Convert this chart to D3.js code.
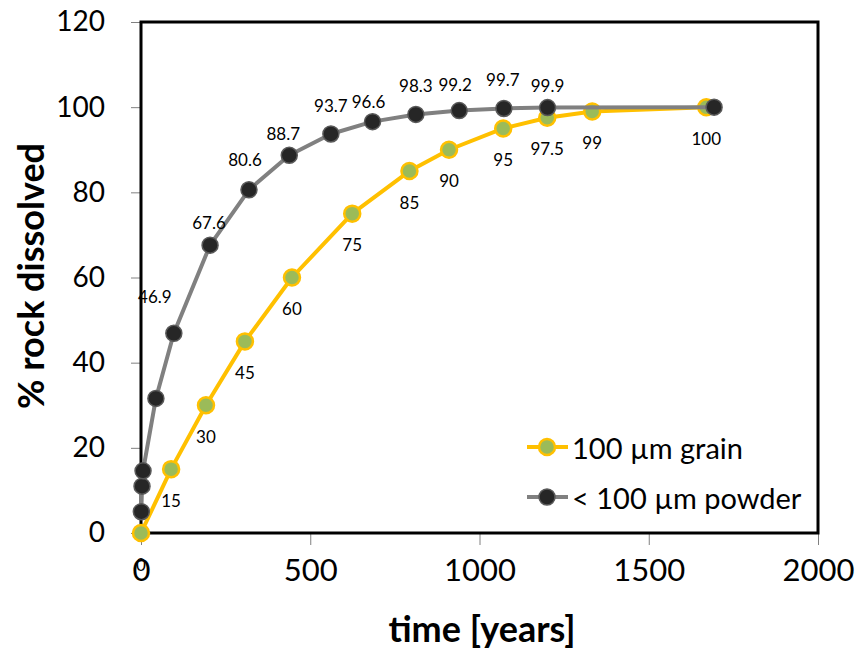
<!DOCTYPE html>
<html>
<head>
<meta charset="utf-8">
<script src="https://cdn.jsdelivr.net/npm/d3@7"></script>
<style>
  html, body { margin: 0; padding: 0; background: #fff; }
  svg { display: block; font-family: Lato, "Open Sans", sans-serif; }
</style>
</head>
<body>
<svg id="chart" width="857" height="650"></svg>
<script>
// ---- data ----
const grainTime   = [0, 89, 192, 307, 446, 624, 793, 910, 1070, 1200, 1333, 1670];
const grainValue  = [0, 15, 30, 45, 60, 75, 85, 90, 95, 97.5, 99, 100];
const powderTime  = [1, 3, 6, 44, 97, 204, 319, 438, 561, 684, 812, 940, 1072, 1201, 1693];
const powderValue = [5, 11, 14.6, 31.6, 46.9, 67.6, 80.6, 88.7, 93.7, 96.6, 98.3, 99.2, 99.7, 99.9, 100];
const powderLabelled = [false, false, false, false, true, true, true, true, true, true, true, true, true, true, false];
const xTicks = [0, 500, 1000, 1500, 2000];
const yTicks = [0, 20, 40, 60, 80, 100, 120];
const seriesNames = ["100 µm grain", "< 100 µm powder"];
const xTitle = "time [years]";
const yTitle = "% rock dissolved";

// label nudges (layout only, px) for powder labels, as placed in the original
const powderNudge = [[0,-25],[0,-25],[0,-25],[0,-25],[-19,-37],[-1,-23],[-4,-30],[-6,-22],[0,-28],[-4,-20],[0,-29],[-4,-26],[-1,-29],[0,-22],[0,-25]];

// ---- layout ----
const svg = d3.select("#chart");
const x = d3.scaleLinear().domain([0, 2000]).range([141, 818]);
const y = d3.scaleLinear().domain([0, 120]).range([533, 22]);

const grain = grainTime.map((t, i) => ({t, v: grainValue[i]}));
const powder = powderTime.map((t, i) => ({t, v: powderValue[i], lab: powderLabelled[i], n: powderNudge[i]}));

const grainLine = "#FFC000", grainFill = "#9BBB59";
const powderLine = "#808080", powderFill = "#262626", powderStroke = "#595959";

// axes ticks (gray, outside)
const yAxis = d3.axisLeft(y).tickValues(yTicks).tickSize(10).tickPadding(26).tickFormat(d3.format("d"));
const gy = svg.append("g").attr("transform", `translate(${x(0)},0)`).call(yAxis);
gy.select(".domain").remove();
gy.selectAll(".tick line").attr("stroke", "#808080").attr("stroke-width", 1);
gy.selectAll(".tick text").attr("font-size", 28).attr("fill", "#000").attr("font-family", "Lato");

const xAxis = d3.axisBottom(x).tickValues(xTicks).tickSize(12).tickPadding(14).tickFormat(d3.format("d"));
const gx = svg.append("g").attr("transform", `translate(0,${y(0)})`).call(xAxis);
gx.select(".domain").remove();
gx.selectAll(".tick line").attr("stroke", "#808080").attr("stroke-width", 1);
gx.selectAll(".tick text").attr("font-size", 31).attr("fill", "#000").attr("font-family", "Lato");

// frame
svg.append("rect")
  .attr("x", x(0)).attr("y", y(120))
  .attr("width", x(2000) - x(0)).attr("height", y(0) - y(120))
  .attr("fill", "none").attr("stroke", "#000").attr("stroke-width", 3);

// axis titles
svg.append("text").attr("x", 482).attr("y", 642).attr("text-anchor", "middle")
  .attr("font-size", 36).attr("font-weight", "bold").text(xTitle);
svg.append("text").attr("transform", "translate(44,276) rotate(-90)").attr("text-anchor", "middle")
  .attr("font-size", 36).attr("font-weight", "bold").text(yTitle);

const line = d3.line().x(d => x(d.t)).y(d => y(d.v));

// grain series
svg.append("path").datum(grain).attr("d", line)
  .attr("fill", "none").attr("stroke", grainLine).attr("stroke-width", 4).attr("stroke-linejoin", "round");
svg.append("g").selectAll("circle").data(grain).join("circle")
  .attr("cx", d => x(d.t)).attr("cy", d => y(d.v)).attr("r", 8)
  .attr("fill", grainFill).attr("stroke", grainLine).attr("stroke-width", 2.5);
svg.append("g").selectAll("text").data(grain).join("text")
  .attr("x", d => x(d.t)).attr("y", d => y(d.v) + 31)
  .attr("text-anchor", "middle").attr("dominant-baseline", "central")
  .attr("font-size", 17).attr("fill", "#000")
  .text(d => d3.format("")(d.v));

// powder series
svg.append("path").datum(powder).attr("d", line)
  .attr("fill", "none").attr("stroke", powderLine).attr("stroke-width", 4).attr("stroke-linejoin", "round");
svg.append("g").selectAll("circle").data(powder).join("circle")
  .attr("cx", d => x(d.t)).attr("cy", d => y(d.v)).attr("r", 8)
  .attr("fill", powderFill).attr("stroke", powderStroke).attr("stroke-width", 1.5);
svg.append("g").selectAll("text").data(powder.filter(d => d.lab)).join("text")
  .attr("x", d => x(d.t) + d.n[0]).attr("y", d => y(d.v) + d.n[1])
  .attr("text-anchor", "middle").attr("dominant-baseline", "central")
  .attr("font-size", 17).attr("fill", "#000")
  .text(d => d.v);

// legend
const legend = svg.append("g");
const legendRows = [
  {name: seriesNames[0], line: grainLine, fill: grainFill, stroke: grainLine, sw: 2.5, y: 447},
  {name: seriesNames[1], line: powderLine, fill: powderFill, stroke: powderStroke, sw: 1.5, y: 497}
];
legendRows.forEach(r => {
  legend.append("line").attr("x1", 527).attr("x2", 568).attr("y1", r.y).attr("y2", r.y)
    .attr("stroke", r.line).attr("stroke-width", 4);
  legend.append("circle").attr("cx", 547).attr("cy", r.y).attr("r", 8)
    .attr("fill", r.fill).attr("stroke", r.stroke).attr("stroke-width", r.sw);
  legend.append("text").attr("x", 572).attr("y", r.y).attr("dominant-baseline", "central")
    .attr("font-size", 29).attr("fill", "#000").text(r.name);
});
</script>
</body>
</html>
